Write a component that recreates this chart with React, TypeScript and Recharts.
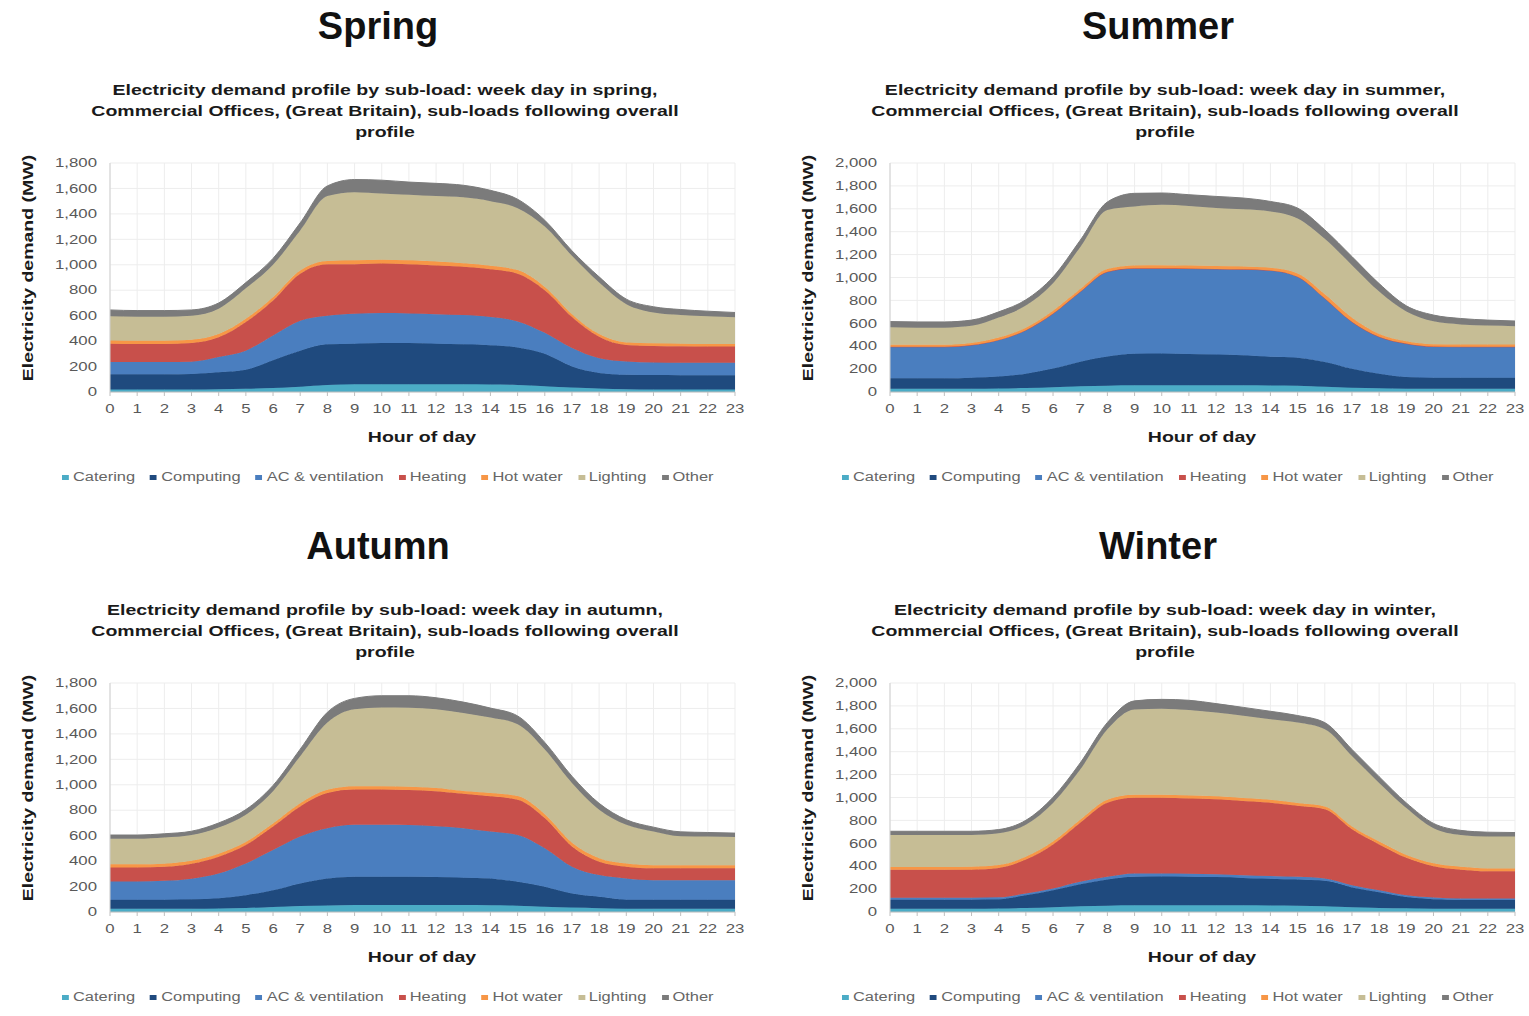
import React from 'react';
import { AreaChart, Area, XAxis, YAxis, CartesianGrid } from 'recharts';

const HOURS = [0, 1, 2, 3, 4, 5, 6, 7, 8, 9, 10, 11, 12, 13, 14, 15, 16, 17, 18, 19, 20, 21, 22, 23];

const SERIES_NAMES = ['Catering', 'Computing', 'AC & ventilation', 'Heating', 'Hot water', 'Lighting', 'Other'];
const SERIES_KEYS = ['catering', 'computing', 'ac', 'heating', 'hotWater', 'lighting', 'other'];
const SERIES_COLORS = ['#4BACC6', '#1F4A7E', '#4A7EBF', '#C8504B', '#F79646', '#C6BD95', '#7B7B7B'];

const Y_TICKS_1800 = [0, 200, 400, 600, 800, 1000, 1200, 1400, 1600, 1800];
const Y_TICKS_2000 = [0, 200, 400, 600, 800, 1000, 1200, 1400, 1600, 1800, 2000];

// Spring (MW)
const SPRING_CATERING = [20, 20, 20, 20, 22, 25, 32, 42, 55, 60, 60, 60, 60, 60, 58, 55, 45, 35, 28, 22, 20, 20, 20, 20];
const SPRING_COMPUTING = [120, 120, 120, 122, 133, 150, 218, 283, 320, 320, 325, 325, 320, 315, 310, 295, 255, 165, 122, 113, 113, 112, 112, 112];
const SPRING_AC = [95, 95, 95, 96, 120, 150, 195, 235, 225, 235, 235, 233, 232, 230, 222, 205, 165, 145, 115, 105, 99, 98, 98, 98];
const SPRING_HEATING = [145, 143, 143, 147, 155, 225, 275, 370, 405, 390, 390, 387, 383, 380, 375, 375, 335, 245, 170, 130, 130, 130, 128, 128];
const SPRING_HOTWATER = [25, 25, 25, 25, 25, 25, 25, 25, 25, 30, 30, 30, 30, 27, 27, 28, 25, 22, 20, 20, 21, 20, 20, 20];
const SPRING_LIGHTING = [190, 189, 189, 190, 200, 240, 255, 315, 510, 535, 520, 515, 515, 518, 508, 487, 475, 458, 405, 300, 242, 225, 217, 210];
const SPRING_OTHER = [50, 48, 48, 45, 45, 45, 50, 60, 80, 100, 105, 100, 100, 95, 85, 70, 50, 40, 45, 40, 45, 43, 40, 37];

// Summer (MW)
const SUMMER_CATERING = [28, 28, 28, 28, 30, 35, 42, 50, 55, 58, 58, 58, 58, 58, 57, 55, 45, 38, 32, 28, 28, 28, 28, 28];
const SUMMER_COMPUTING = [92, 92, 92, 97, 105, 125, 163, 215, 255, 277, 278, 274, 270, 263, 250, 245, 218, 166, 128, 103, 97, 97, 97, 97];
const SUMMER_AC = [275, 275, 275, 285, 320, 380, 480, 610, 740, 745, 744, 746, 747, 751, 755, 707, 555, 409, 322, 292, 272, 270, 270, 270];
const SUMMER_HEATING = [0, 0, 0, 0, 0, 0, 0, 0, 0, 0, 0, 0, 0, 0, 0, 0, 0, 0, 0, 0, 0, 0, 0, 0];
const SUMMER_HOTWATER = [17, 17, 17, 18, 20, 22, 25, 25, 25, 25, 28, 26, 25, 23, 23, 28, 35, 35, 25, 20, 20, 20, 20, 20];
const SUMMER_LIGHTING = [153, 150, 150, 150, 175, 193, 240, 365, 515, 515, 527, 521, 506, 500, 492, 481, 485, 460, 370, 260, 200, 175, 165, 160];
const SUMMER_OTHER = [50, 50, 50, 50, 50, 50, 55, 60, 70, 115, 103, 98, 102, 99, 87, 90, 78, 75, 70, 50, 55, 52, 48, 45];

// Autumn (MW)
const AUTUMN_CATERING = [25, 25, 25, 25, 28, 32, 40, 48, 52, 55, 55, 55, 55, 55, 53, 50, 42, 35, 30, 26, 25, 25, 25, 25];
const AUTUMN_COMPUTING = [72, 72, 72, 75, 80, 100, 131, 176, 212, 222, 222, 222, 220, 215, 211, 187, 156, 110, 89, 71, 72, 72, 72, 72];
const AUTUMN_AC = [143, 143, 148, 162, 195, 250, 316, 369, 395, 408, 408, 406, 400, 389, 368, 369, 303, 211, 171, 167, 153, 153, 153, 153];
const AUTUMN_HEATING = [110, 110, 110, 118, 132, 145, 185, 237, 276, 277, 277, 275, 275, 271, 277, 277, 237, 158, 105, 92, 93, 93, 93, 93];
const AUTUMN_HOTWATER = [25, 25, 25, 22, 23, 23, 23, 25, 25, 26, 26, 26, 25, 22, 26, 28, 30, 30, 28, 25, 25, 25, 25, 25];
const AUTUMN_LIGHTING = [200, 200, 205, 203, 207, 215, 255, 370, 530, 606, 619, 621, 619, 613, 593, 565, 510, 470, 381, 304, 264, 227, 225, 222];
const AUTUMN_OTHER = [30, 30, 30, 30, 35, 40, 45, 55, 80, 85, 93, 95, 90, 85, 75, 65, 55, 53, 50, 40, 35, 35, 32, 30];

// Winter (MW)
const WINTER_CATERING = [28, 28, 28, 28, 30, 35, 42, 50, 55, 58, 58, 58, 58, 58, 56, 55, 50, 42, 36, 32, 28, 28, 28, 28];
const WINTER_COMPUTING = [80, 80, 80, 80, 82, 111, 148, 193, 229, 249, 252, 250, 247, 240, 234, 228, 222, 173, 136, 98, 84, 77, 77, 77];
const WINTER_AC = [17, 17, 17, 17, 16, 15, 15, 21, 23, 30, 27, 27, 25, 24, 25, 24, 21, 19, 18, 16, 14, 12, 12, 12];
const WINTER_HEATING = [243, 243, 243, 245, 257, 297, 385, 516, 648, 661, 661, 657, 655, 648, 640, 620, 604, 488, 400, 327, 274, 253, 239, 239];
const WINTER_HOTWATER = [25, 25, 25, 25, 25, 25, 25, 25, 25, 25, 25, 25, 25, 25, 25, 25, 25, 25, 25, 25, 25, 25, 25, 25];
const WINTER_LIGHTING = [280, 280, 280, 278, 278, 278, 337, 439, 615, 746, 752, 747, 732, 720, 703, 702, 674, 615, 512, 410, 307, 278, 278, 278];
const WINTER_OTHER = [32, 32, 32, 32, 32, 40, 50, 58, 60, 75, 82, 85, 78, 72, 70, 62, 58, 58, 55, 45, 42, 40, 38, 35];

const FONT = '"Liberation Sans", Arial, Helvetica, sans-serif';
const TEXT_GREY = '#595959';

function buildRows(series: number[][]) {
  return HOURS.map((h, i) => {
    const row: Record<string, number> = { hour: h };
    SERIES_KEYS.forEach((k, j) => {
      row[k] = series[j][i];
    });
    return row;
  });
}

const fmt = (v: number) => v.toLocaleString('en-US');

const YTick = (props: any) => {
  const { x, y, payload } = props;
  return (
    <g transform={`translate(${x},${y})`}>
      <text transform="scale(1.4,1)" textAnchor="end" dy="0.35em" fontSize={12} fill={TEXT_GREY} fontFamily={FONT}>
        {fmt(payload.value)}
      </text>
    </g>
  );
};

const XTick = (props: any) => {
  const { x, y, payload } = props;
  return (
    <g transform={`translate(${x},${y})`}>
      <text transform="scale(1.4,1)" textAnchor="middle" dy="0.71em" fontSize={12} fill={TEXT_GREY} fontFamily={FONT}>
        {payload.value}
      </text>
    </g>
  );
};

type PanelProps = {
  left: number;
  top: number;
  title: string;
  season: string;
  rows: Record<string, number>[];
  yMax: number;
  yTicks: number[];
};

function Panel({ left, top, title, season, rows, yMax, yTicks }: PanelProps) {
  return (
    <div style={{ position: 'absolute', left, top, width: 764, height: 508, fontFamily: FONT }}>
      <div
        style={{
          position: 'absolute',
          left: 0,
          width: 756,
          top: 7,
          textAlign: 'center',
          fontSize: 38,
          lineHeight: '38px',
          fontWeight: 700,
          color: '#111',
        }}
      >
        {title}
      </div>
      <div
        style={{
          position: 'absolute',
          left: 0,
          width: 770,
          top: 79,
          textAlign: 'center',
          fontSize: 15,
          lineHeight: '21px',
          fontWeight: 700,
          color: '#1a1a1a',
          transform: 'scaleX(1.3)',
          transformOrigin: '385px 0',
          whiteSpace: 'nowrap',
        }}
      >
        {`Electricity demand profile by sub-load: week day in ${season},`}
        <br />
        {'Commercial Offices, (Great Britain), sub-loads following overall'}
        <br />
        {'profile'}
      </div>
      <div
        style={{
          position: 'absolute',
          left: 28 - 150,
          top: 268 - 10,
          width: 300,
          height: 20,
          lineHeight: '20px',
          textAlign: 'center',
          fontSize: 15,
          fontWeight: 700,
          color: '#1a1a1a',
          transform: 'rotate(-90deg) scaleX(1.3)',
          transformOrigin: '150px 10px',
          whiteSpace: 'nowrap',
        }}
      >
        Electricity demand (MW)
      </div>
      <div style={{ position: 'absolute', left: 0, top: 0 }}>
        <AreaChart width={764} height={430} data={rows} margin={{ top: 163, right: 29, left: 0, bottom: 8 }}>
          <CartesianGrid stroke="#ededed" vertical={true} horizontal={true} />
          <XAxis
            dataKey="hour"
            type="number"
            domain={[0, 23]}
            ticks={HOURS}
            interval={0}
            height={30}
            tick={<XTick />}
            tickSize={4}
            tickMargin={8}
            axisLine={{ stroke: '#bfbfbf' }}
            tickLine={{ stroke: '#bfbfbf' }}
          />
          <YAxis
            type="number"
            domain={[0, yMax]}
            ticks={yTicks}
            interval={0}
            width={110}
            tick={<YTick />}
            tickSize={6}
            tickMargin={7}
            tickLine={false}
            axisLine={{ stroke: '#d0d0d0' }}
          />
          {SERIES_KEYS.map((k, j) => (
            <Area
              key={k}
              dataKey={k}
              name={SERIES_NAMES[j]}
              stackId="1"
              type="monotone"
              fill={SERIES_COLORS[j]}
              fillOpacity={1}
              stroke={SERIES_COLORS[j]}
              strokeWidth={1}
              isAnimationActive={false}
              dot={false}
              activeDot={false}
            />
          ))}
        </AreaChart>
      </div>
      <div
        style={{
          position: 'absolute',
          left: 422 - 150,
          width: 300,
          top: 428,
          lineHeight: '18px',
          textAlign: 'center',
          fontSize: 15,
          fontWeight: 700,
          color: '#1a1a1a',
          transform: 'scaleX(1.3)',
          transformOrigin: '150px 0',
        }}
      >
        Hour of day
      </div>
      <div
        style={{
          position: 'absolute',
          left: 62,
          top: 470,
          display: 'flex',
          alignItems: 'center',
          gap: 11,
          fontSize: 12,
          lineHeight: '14px',
          color: '#666',
          transform: 'scaleX(1.37)',
          transformOrigin: '0 0',
          whiteSpace: 'nowrap',
        }}
      >
        {SERIES_NAMES.map((n, j) => (
          <div key={n} style={{ display: 'flex', alignItems: 'center' }}>
            <span style={{ display: 'inline-block', width: 5, height: 5, background: SERIES_COLORS[j], marginRight: 3 }} />
            <span>{n}</span>
          </div>
        ))}
      </div>
    </div>
  );
}

const SPRING_ROWS = buildRows([SPRING_CATERING, SPRING_COMPUTING, SPRING_AC, SPRING_HEATING, SPRING_HOTWATER, SPRING_LIGHTING, SPRING_OTHER]);
const SUMMER_ROWS = buildRows([SUMMER_CATERING, SUMMER_COMPUTING, SUMMER_AC, SUMMER_HEATING, SUMMER_HOTWATER, SUMMER_LIGHTING, SUMMER_OTHER]);
const AUTUMN_ROWS = buildRows([AUTUMN_CATERING, AUTUMN_COMPUTING, AUTUMN_AC, AUTUMN_HEATING, AUTUMN_HOTWATER, AUTUMN_LIGHTING, AUTUMN_OTHER]);
const WINTER_ROWS = buildRows([WINTER_CATERING, WINTER_COMPUTING, WINTER_AC, WINTER_HEATING, WINTER_HOTWATER, WINTER_LIGHTING, WINTER_OTHER]);

export default function App() {
  return (
    <div style={{ position: 'absolute', left: 0, top: 0, width: 1529, height: 1016, background: '#fff', overflow: 'hidden' }}>
      <Panel left={0} top={0} title="Spring" season="spring" rows={SPRING_ROWS} yMax={1800} yTicks={Y_TICKS_1800} />
      <Panel left={780} top={0} title="Summer" season="summer" rows={SUMMER_ROWS} yMax={2000} yTicks={Y_TICKS_2000} />
      <Panel left={0} top={520} title="Autumn" season="autumn" rows={AUTUMN_ROWS} yMax={1800} yTicks={Y_TICKS_1800} />
      <Panel left={780} top={520} title="Winter" season="winter" rows={WINTER_ROWS} yMax={2000} yTicks={Y_TICKS_2000} />
    </div>
  );
}
